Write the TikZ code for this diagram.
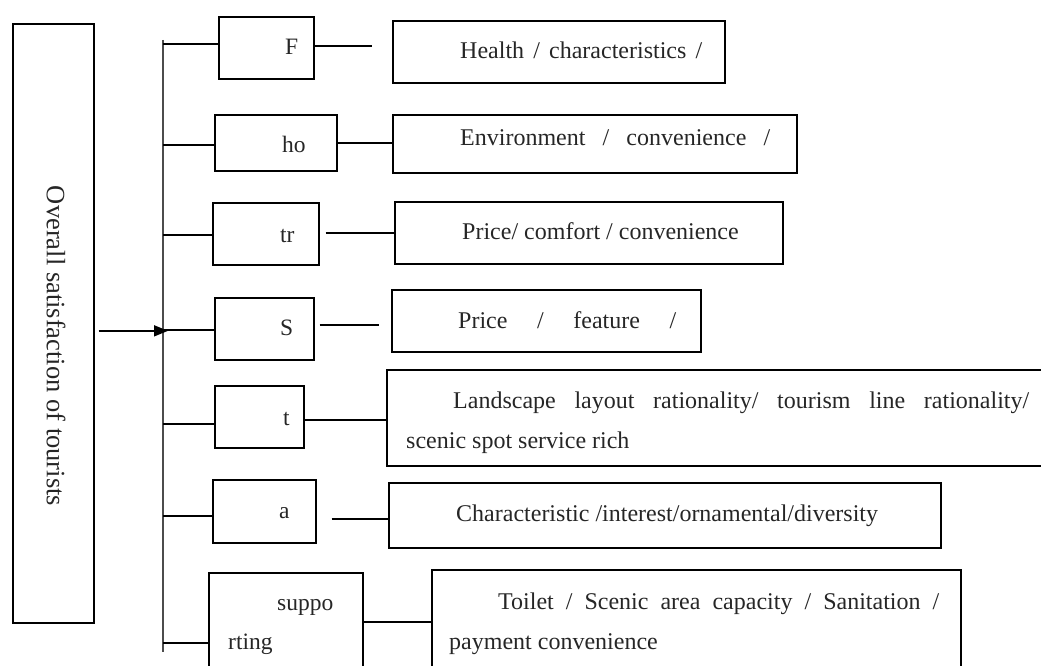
\documentclass[tikz,border=0pt]{standalone}
\usepackage{fontspec}
\setmainfont{Liberation Serif}
\usetikzlibrary{calc, arrows.meta}

\begin{document}
\begin{tikzpicture}[x=1pt, y=-1pt,
    cell/.style={draw, rectangle, anchor=north west, line width=1.7pt, inner sep=0pt},
    txt/.style={anchor=base west, inner sep=0pt, text=black!85, font=\fontsize{24pt}{28pt}\selectfont},
    tag/.style={anchor=base west, inner sep=0pt, text=black!85, font=\fontsize{23.5pt}{27pt}\selectfont},
    link/.style={line width=1.6pt},
    trunk/.style={line width=2.2pt, black!70}]
    \useasboundingbox (0,0) rectangle (1041,666);

    % overall box
    \node[cell, minimum width=81pt, minimum height=599pt] (main) at (12,23) {};
    \node[rotate=-90, inner sep=0pt, text=black!85, font=\fontsize{26.5pt}{30pt}\selectfont] (maintxt) at (56,346) {Overall satisfaction of tourists};

    % indicator boxes
    \node[cell, minimum width=95pt, minimum height=62pt] (F) at (218,16) {};
    \node[cell, minimum width=122pt, minimum height=56pt] (ho) at (214,114) {};
    \node[cell, minimum width=106pt, minimum height=62pt] (tr) at (212,202) {};
    \node[cell, minimum width=99pt, minimum height=62pt] (S) at (214,297) {};
    \node[cell, minimum width=89pt, minimum height=62pt] (t) at (214,385) {};
    \node[cell, minimum width=103pt, minimum height=63pt] (a) at (212,479) {};
    \node[cell, minimum width=154pt, minimum height=130pt] (sup) at (208,572) {};

    \node[tag] (Ftxt) at (285,55) {F};
    \node[tag] (hotxt) at (282,153) {ho};
    \node[tag] (trtxt) at (280,242) {tr};
    \node[tag] (Stxt) at (280,335) {S};
    \node[tag] (ttxt) at (283,425) {t};
    \node[tag] (atxt) at (279,518) {a};
    \node[tag] (suptxtA) at (277,610) {suppo};
    \node[tag] (suptxtB) at (228,649) {rting};

    % factor boxes
    \node[cell, minimum width=332pt, minimum height=62pt] (health) at (392,20) {};
    \node[cell, minimum width=404pt, minimum height=58pt] (env) at (392,114) {};
    \node[cell, minimum width=388pt, minimum height=62pt] (pcc) at (394,201) {};
    \node[cell, minimum width=309pt, minimum height=62pt] (pf) at (391,289) {};
    \node[cell, minimum width=670pt, minimum height=96pt] (land) at (386,369) {};
    \node[cell, minimum width=552pt, minimum height=65pt] (char) at (388,482) {};
    \node[cell, minimum width=529pt, minimum height=130pt] (toil) at (431,569) {};

    \node[txt] (healthtxt) at (460,59) {\makebox[242pt][s]{Health / characteristics /}};
    \node[txt] (envtxt) at (460,146) {\makebox[310pt][s]{Environment / convenience /}};
    \node[txt] (pcctxt) at (462,239) {Price/ comfort / convenience};
    \node[txt] (pftxt) at (458,328) {\makebox[218pt][s]{Price / feature /}};
    \node[txt] (landtxtA) at (453,408) {\makebox[576pt][s]{Landscape layout rationality/ tourism line rationality/}};
    \node[txt] (landtxtB) at (406,448) {scenic spot service rich};
    \node[txt] (chartxt) at (456,521) {Characteristic /interest/ornamental/diversity};
    \node[txt] (toiltxtA) at (498,609) {\makebox[441pt][s]{Toilet / Scenic area capacity / Sanitation /}};
    \node[txt] (toiltxtB) at (449,649) {payment convenience};

    % trunk and arrow
    \coordinate (ttop) at (163,40);
    \coordinate (tbot) at (163,652);
    \draw[trunk] (ttop) -- (tbot);
    \draw[link, -{Triangle[length=14pt,width=11pt]}, shorten >=-5pt]
        ([xshift=4pt,yshift=-7.5pt]main.east) -- ([yshift=-7.5pt]main.east -| ttop);

    % branches
    \foreach \b/\dy in {F/4,ho/-2,tr/-1,S/-1,t/-7,a/-4.5}{
        \draw[link] ([yshift=\dy pt]\b.west -| ttop) -- ([yshift=\dy pt]\b.west);
    }
    \draw[link] ([yshift=-71pt]sup.north west -| ttop) -- ([yshift=-71pt]sup.north west);

    \foreach \b/\c/\dy/\sl/\sr in {F/health/2/0/20, ho/env/0/0/0, tr/pcc/1/6/0, S/pf/4/5/12, t/land/-3/0/0, a/char/-7.5/15/0}{
        \draw[link, shorten <=\sl pt, shorten >=\sr pt] ([yshift=\dy pt]\b.east) -- ([yshift=\dy pt]\b.east -| \c.west);
    }
    \draw[link] ([yshift=-50pt]sup.north east) -- ([yshift=-50pt]sup.north east -| toil.west);
\end{tikzpicture}
\end{document}
